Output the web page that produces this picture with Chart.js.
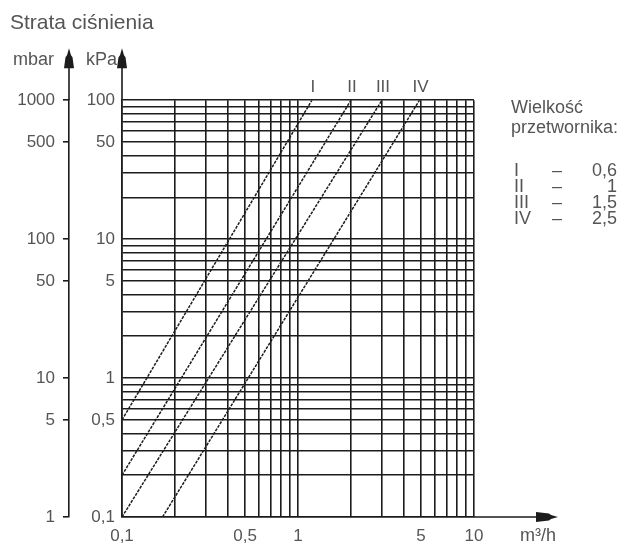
<!DOCTYPE html>
<html>
<head>
<meta charset="utf-8">
<script src="https://cdn.jsdelivr.net/npm/chart.js@4.4.1/dist/chart.umd.min.js"></script>
<style>
    html, body { margin: 0; padding: 0; background: #fff; }
    #wrap { width: 626px; height: 546px; }
</style>
</head>
<body>
<div id="wrap"><canvas id="lossChart"></canvas></div>
<script>
//Daten: Durchfluss (m3/h) und Druckverlust (kPa), Anfang und Ende jeder Kennlinie
const seriesNames = ['I', 'II', 'III', 'IV'];
const sizeLabels = ['0,6', '1', '1,5', '2,5'];
const flowI = [0.1, 1.2];
const lossI = [0.5, 100];
const flowII = [0.1, 2];
const lossII = [0.2, 100];
const flowIII = [0.1, 3];
const lossIII = [0.1, 100];
const flowIV = [0.17, 4.9];
const lossIV = [0.1, 100];

//Gitterlinien und Beschriftungen
const flowGrid = [0.1, 0.2, 0.3, 0.4, 0.5, 0.6, 0.7, 0.8, 0.9, 1, 2, 3, 4, 5, 6, 7, 8, 9, 10];
const flowTickValues = [0.1, 0.5, 1, 5, 10];
const flowTickLabels = ['0,1', '0,5', '1', '5', '10'];
const kpaGrid = [0.1, 0.2, 0.3, 0.4, 0.5, 0.6, 0.7, 0.8, 0.9, 1, 2, 3, 4, 5, 6, 7, 8, 9, 10,
    20, 30, 40, 50, 60, 70, 80, 90, 100];
const kpaTickValues = [0.1, 0.5, 1, 5, 10, 50, 100];
const kpaTickLabels = ['0,1', '0,5', '1', '5', '10', '50', '100'];
const mbarTickValues = [1, 5, 10, 50, 100, 500, 1000];
const mbarTickLabels = ['1', '5', '10', '50', '100', '500', '1000'];

const lineColor = '#1c1c1c';
const textColor = '#555555';
const fontFamily = '"Liberation Sans", Arial, Helvetica, sans-serif';

function labelFor(value, values, labels) {
    let i = values.findIndex(v => Math.abs(v - value) < 1e-9 * Math.max(1, v));
    return i >= 0 ? labels[i] : '';
}

function makeSeries(name, flow, loss) {
    return {
        label: name,
        data: flow.map((q, i) => ({ x: q, y: loss[i] })),
        borderColor: lineColor,
        borderWidth: 1.5,
        borderDash: [3, 1.2],
        pointRadius: 0,
        fill: false,
        tension: 0
    }
}

//Pfeil an einer Achse
function arrowUp(ctx, x, tipY) {
    ctx.beginPath();
    ctx.moveTo(x, tipY);
    ctx.lineTo(x + 2, tipY + 7);
    ctx.lineTo(x + 3.5, tipY + 9);
    ctx.lineTo(x + 5, tipY + 20);
    ctx.lineTo(x - 5, tipY + 20);
    ctx.lineTo(x - 3.5, tipY + 9);
    ctx.lineTo(x - 2, tipY + 7);
    ctx.closePath();
    ctx.fill();
}

function arrowRight(ctx, tipX, y) {
    ctx.beginPath();
    ctx.moveTo(tipX, y);
    ctx.lineTo(tipX - 7, y - 2);
    ctx.lineTo(tipX - 9, y - 3.5);
    ctx.lineTo(tipX - 22, y - 5);
    ctx.lineTo(tipX - 22, y + 5);
    ctx.lineTo(tipX - 9, y + 3.5);
    ctx.lineTo(tipX - 7, y + 2);
    ctx.closePath();
    ctx.fill();
}

const decorPlugin = {
    id: 'decor',
    beforeDraw(chart) {
        let ctx = chart.ctx;
        ctx.save();
        ctx.fillStyle = '#ffffff';
        ctx.fillRect(0, 0, chart.width, chart.height);
        ctx.restore();
    },
    afterDraw(chart) {
        let ctx = chart.ctx;
        let area = chart.chartArea;
        let xs = chart.scales.x;
        let kpa = chart.scales.y;
        let mbar = chart.scales.y2;
        ctx.save();
        ctx.strokeStyle = lineColor;
        ctx.fillStyle = lineColor;
        ctx.lineWidth = 1.6;

        //Achsen verlaengern
        let tipY = area.top - 52;
        ctx.beginPath();
        ctx.moveTo(kpa.right, area.top);
        ctx.lineTo(kpa.right, tipY + 10);
        ctx.moveTo(mbar.right, area.top);
        ctx.lineTo(mbar.right, tipY + 10);
        ctx.moveTo(area.right, area.bottom);
        ctx.lineTo(area.right + 70, area.bottom);
        ctx.stroke();
        arrowUp(ctx, kpa.right, tipY);
        arrowUp(ctx, mbar.right, tipY);
        arrowRight(ctx, area.right + 84, area.bottom);

        //Einheiten
        ctx.fillStyle = textColor;
        ctx.font = '18px ' + fontFamily;
        ctx.textBaseline = 'alphabetic';
        ctx.textAlign = 'right';
        ctx.fillText('mbar', mbar.right - 15, tipY + 17);
        ctx.fillText('kPa', kpa.right - 5, tipY + 17);
        ctx.textAlign = 'center';
        ctx.textBaseline = 'middle';
        ctx.fillText('m³/h', area.right + 64, xs.top + 19);

        //Kennlinien-Namen oben
        ctx.font = '17px ' + fontFamily;
        chart.data.datasets.forEach((ds, i) => {
            let last = ds.data[ds.data.length - 1];
            ctx.fillText(seriesNames[i], xs.getPixelForValue(last.x) + 1, area.top - 13);
        });

        //Legende rechts
        let lx = area.right + 37;
        ctx.font = '18px ' + fontFamily;
        ctx.textBaseline = 'alphabetic';
        ctx.textAlign = 'left';
        ctx.fillText('Wielkość', lx, area.top + 13);
        ctx.fillText('przetwornika:', lx, area.top + 33);
        for (let i = 0; i < seriesNames.length; i++) {
            let y = area.top + 76 + i * 15.8;
            ctx.textAlign = 'left';
            ctx.fillText(seriesNames[i], lx + 3, y);
            ctx.textAlign = 'center';
            ctx.fillText('–', lx + 46, y);
            ctx.textAlign = 'right';
            ctx.fillText(sizeLabels[i], lx + 106, y);
        }
        ctx.restore();
    }
};

const canvas = document.getElementById('lossChart');
let lossChart = new Chart(canvas, {
    type: 'line',
    data: {
        datasets: [
            makeSeries('I', flowI, lossI),
            makeSeries('II', flowII, lossII),
            makeSeries('III', flowIII, lossIII),
            makeSeries('IV', flowIV, lossIV)
        ]
    },
    plugins: [decorPlugin],
    options: {
        responsive: true,
        maintainAspectRatio: false,
        animation: false,
        layout: {
            padding: { left: 10, top: 0, right: 152, bottom: 0 }
        },
        plugins: {
            legend: { display: false },
            tooltip: { enabled: false },
            title: {
                display: true,
                text: 'Strata ciśnienia',
                align: 'start',
                color: textColor,
                font: { family: fontFamily, size: 21, weight: 'normal' },
                padding: { top: 11, bottom: 64 }
            }
        },
        scales: {
            x: {
                type: 'logarithmic',
                min: 0.1,
                max: 10,
                afterBuildTicks: (axis) => { axis.ticks = flowGrid.map(v => ({ value: v })) },
                afterFit: (axis) => { axis.height = 29 },
                grid: { color: lineColor, lineWidth: 1.6, drawTicks: false },
                border: { display: true, color: lineColor, width: 1.6 },
                ticks: {
                    autoSkip: false,
                    maxRotation: 0,
                    padding: 9,
                    color: textColor,
                    font: { family: fontFamily, size: 17 },
                    callback: (value) => labelFor(value, flowTickValues, flowTickLabels)
                }
            },
            y: {
                type: 'logarithmic',
                position: 'left',
                weight: 0,
                min: 0.1,
                max: 100,
                afterBuildTicks: (axis) => { axis.ticks = kpaGrid.map(v => ({ value: v })) },
                afterFit: (axis) => { axis.width = 53 },
                grid: { color: lineColor, lineWidth: 1.6, drawTicks: false },
                border: { display: true, color: lineColor, width: 1.6 },
                ticks: {
                    autoSkip: false,
                    padding: 7,
                    color: textColor,
                    font: { family: fontFamily, size: 17 },
                    callback: (value) => labelFor(value, kpaTickValues, kpaTickLabels)
                }
            },
            y2: {
                type: 'logarithmic',
                position: 'left',
                weight: 1,
                min: 1,
                max: 1000,
                afterBuildTicks: (axis) => { axis.ticks = mbarTickValues.map(v => ({ value: v })) },
                afterFit: (axis) => { axis.width = 59 },
                grid: { color: lineColor, lineWidth: 1.6, drawOnChartArea: false, drawTicks: true, tickLength: 6 },
                border: { display: true, color: lineColor, width: 1.6 },
                ticks: {
                    autoSkip: false,
                    padding: 8,
                    color: textColor,
                    font: { family: fontFamily, size: 17 },
                    callback: (value) => labelFor(value, mbarTickValues, mbarTickLabels)
                }
            }
        }
    }
});
</script>
</body>
</html>
